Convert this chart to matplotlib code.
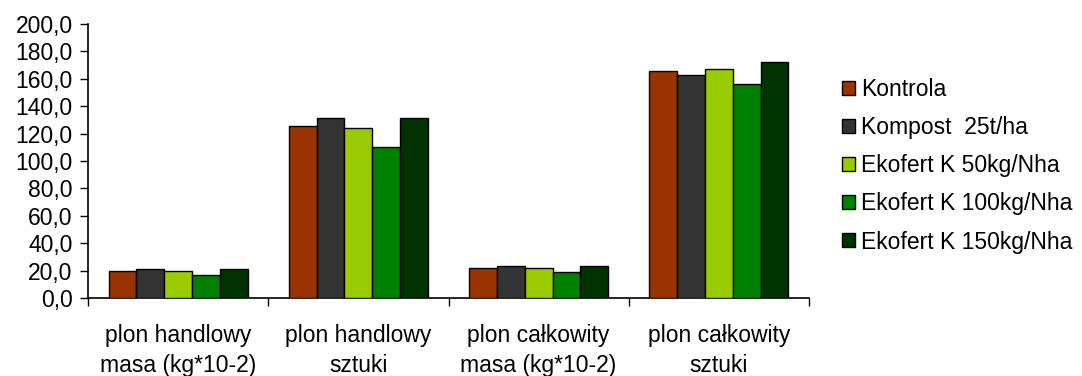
import matplotlib
matplotlib.use("Agg")
import matplotlib.pyplot as plt
import numpy as np
from matplotlib.patches import Patch
from matplotlib.ticker import FuncFormatter, FixedLocator

plt.rcParams['font.family'] = ['Liberation Sans', 'DejaVu Sans']

categories = ["plon handlowy\nmasa (kg*10-2)", "plon handlowy\nsztuki",
              "plon całkowity\nmasa (kg*10-2)", "plon całkowity\nsztuki"]
series_names = ["Kontrola", "Kompost  25t/ha", "Ekofert K 50kg/Nha",
                "Ekofert K 100kg/Nha", "Ekofert K 150kg/Nha"]
kontrola = [19.8, 125.8, 22.2, 165.7]
kompost = [21.0, 131.2, 23.4, 162.8]
ekofert50 = [20.0, 124.3, 22.2, 166.9]
ekofert100 = [16.8, 110.0, 19.3, 156.4]
ekofert150 = [21.0, 131.2, 23.4, 172.5]
series = [kontrola, kompost, ekofert50, ekofert100, ekofert150]
colors = ["#993300", "#333333", "#99CC00", "#008000", "#003300"]
yticks = list(range(0, 201, 20))

FS = 16.5

fig = plt.figure(figsize=(10.82, 3.76), dpi=100)
ax = fig.add_axes([88/1082, 1-298/376, (809-88)/1082, (298-24)/376])

n = len(series)
bw = 0.154
x = np.arange(len(categories))
for i, (vals, c) in enumerate(zip(series, colors)):
    ax.bar(x + (i - (n-1)/2)*bw, vals, width=bw, color=c, edgecolor='black',
           linewidth=1.0, label=series_names[i], zorder=3)

ax.set_xlim(-0.5, len(categories)-0.5)
ax.set_ylim(0, 200)
ax.set_yticks(yticks)
ax.yaxis.set_major_formatter(FuncFormatter(lambda v, p: f"{v:.1f}".replace('.', ',')))
ax.xaxis.set_major_locator(FixedLocator(np.arange(-0.5, len(categories), 1.0)))
ax.xaxis.set_major_formatter(FuncFormatter(lambda v, p: ""))
ax.set_xticks(x, minor=True)
ax.set_xticklabels(categories, minor=True, fontsize=FS, linespacing=1.35)
ax.tick_params(axis='x', which='minor', length=0, pad=19)
ax.tick_params(axis='x', which='major', length=6, width=1.0, direction='out', color='black')
ax.tick_params(axis='y', length=6, width=1.0, direction='out', pad=5, labelsize=FS)

for s in ['top', 'right']:
    ax.spines[s].set_visible(False)
for s in ['left', 'bottom']:
    ax.spines[s].set_linewidth(1.2)
    ax.spines[s].set_color('black')

handles = [Patch(facecolor=c, edgecolor='black', linewidth=1.0) for c in colors]
fig.legend(handles, series_names, loc='upper left', bbox_to_anchor=(842/1082, 1-78/376),
           frameon=False, fontsize=FS, handlelength=0.55, handleheight=0.55,
           handletextpad=0.3, labelspacing=0.66, borderaxespad=0, borderpad=0)

fig.savefig("out.png", dpi=100)
